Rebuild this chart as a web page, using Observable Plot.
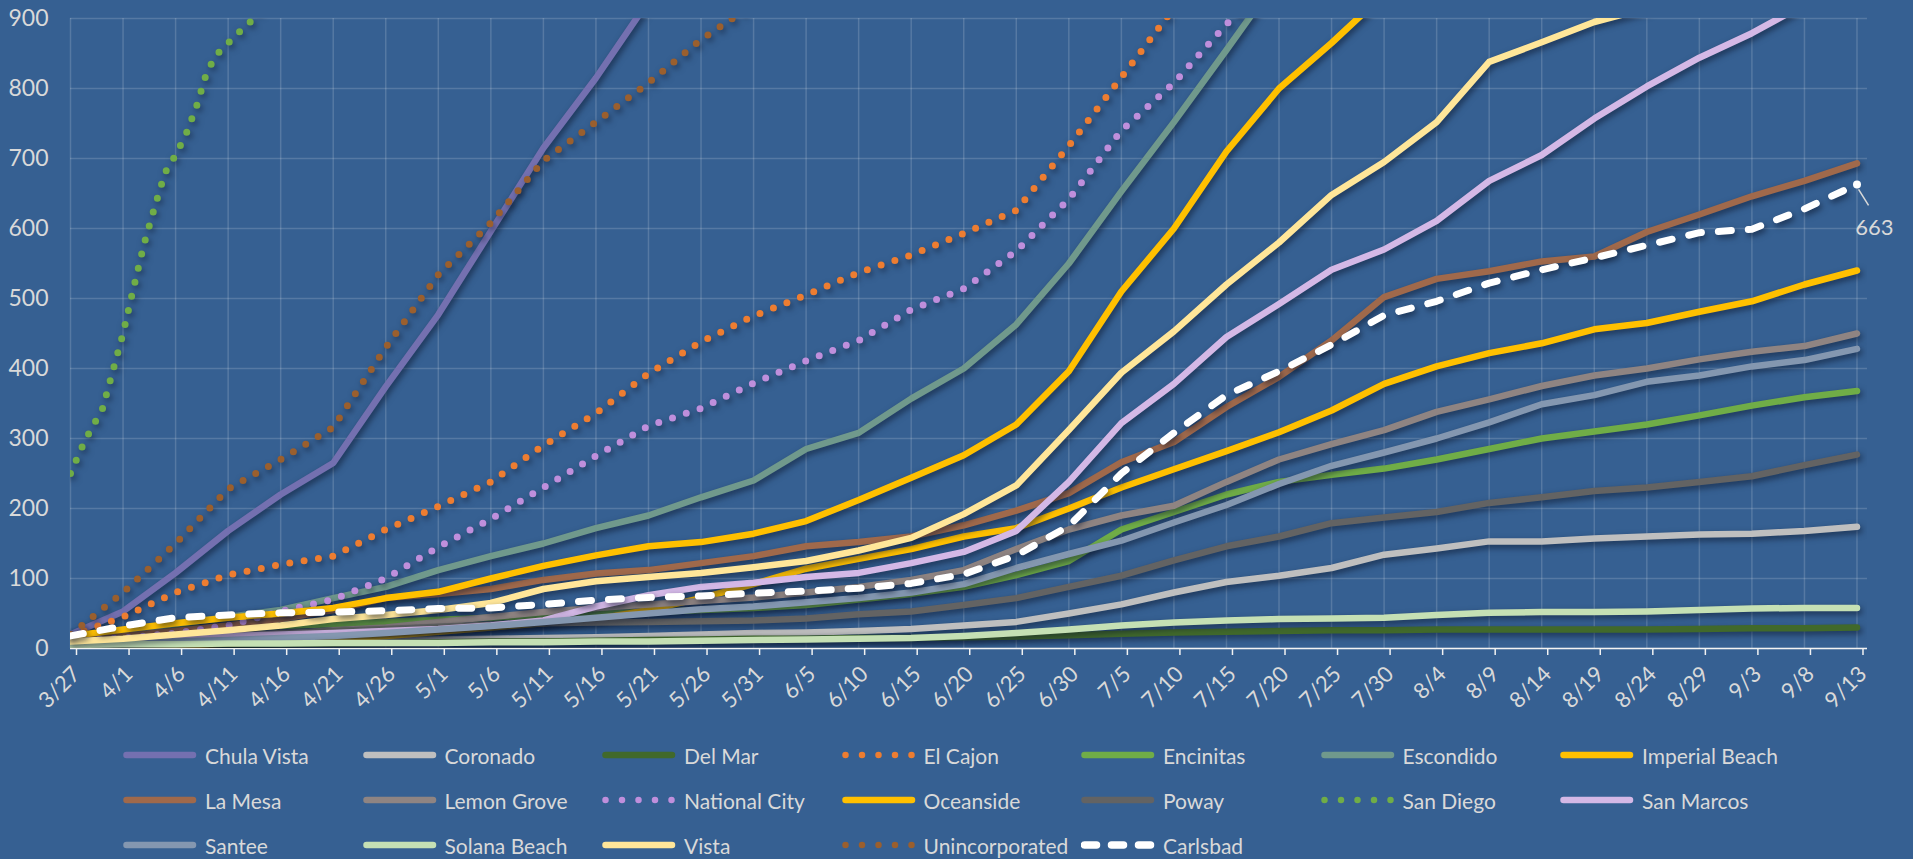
<!DOCTYPE html>
<html><head><meta charset="utf-8">
<script src="https://cdn.jsdelivr.net/npm/d3@7"></script>
<script src="https://cdn.jsdelivr.net/npm/@observablehq/plot@0.6"></script>
<style>
html,body{margin:0;padding:0;background:#366092;}
body{width:1913px;height:859px;overflow:hidden;position:relative;font-family:Lato,"Open Sans",sans-serif;}
#chart svg{display:block;background:#366092;}
#chart g[aria-label="line"] path{filter:drop-shadow(2px 3px 3px rgba(8,18,40,0.6));}
#chart g[aria-label="x-axis tick label"] text{font-size:22px;fill:#D9D9D9;}
#chart g[aria-label="y-axis tick label"] text{font-size:23px;fill:#D9D9D9;}
#legend{position:absolute;left:0;top:0;width:1913px;height:859px;pointer-events:none;}
.item{position:absolute;display:flex;align-items:center;height:30px;color:#D9D9D9;font-size:21px;white-space:nowrap;}
.item svg{margin-right:6px;flex:none;}
</style></head><body>
<div id="chart"></div><div id="legend"></div>
<script>
// ---- data ----
const tickDays = [0,5,10,15,20,25,30,35,40,45,50,55,60,65,70,75,80,85,90,95,100,105,110,115,120,125,130,135,140,145,150,155,160,165,170];
const tickLabels = ["3/27","4/1","4/6","4/11","4/16","4/21","4/26","5/1","5/6","5/11","5/16","5/21","5/26","5/31","6/5","6/10","6/15","6/20","6/25","6/30","7/5","7/10","7/15","7/20","7/25","7/30","8/4","8/9","8/14","8/19","8/24","8/29","9/3","9/8","9/13"];
const yTicks = [0,100,200,300,400,500,600,700,800,900];

const sanDiegoDays = [0,1,2,3,4,5,6,7,8,9,10,11,12,13,14,15,16,17,18];
const sanDiego = [250,285,315,340,395,450,515,578,630,680,705,735,775,825,850,865,880,893,915];

const chulaVista = [20,53,108,168,220,265,374,477,596,715,815,925];
const coronado = [3,5,7,9,10,11,12,13,14,15,16,18,20,22,23,25,28,33,38,50,63,80,95,104,115,134,143,153,153,157,160,163,164,168,174];
const delMar = [1,2,4,5,6,7,8,9,10,10,11,12,13,14,14,15,15,16,17,19,21,23,24,25,26,26,27,27,27,27,27,28,29,29,30];
const elCajon = [18,45,80,105,120,132,170,203,238,290,336,393,438,475,505,537,562,593,626,718,816,915];
const encinitas = [18,25,28,30,32,35,38,41,44,47,50,52,55,58,62,70,78,88,105,125,170,195,220,238,248,257,270,285,300,310,320,333,347,359,368];
const escondido = [15,25,35,45,55,72,88,112,132,150,172,190,216,240,285,308,357,400,463,550,653,752,855,960];
const imperialBeach = [2,3,4,7,10,14,18,24,30,36,42,55,72,92,114,128,142,160,172,200,230,256,282,309,340,378,403,422,436,456,465,481,496,520,540];
const laMesa = [12,18,25,33,42,55,72,78,85,98,107,112,122,132,146,152,160,176,197,222,266,295,345,388,440,502,528,539,553,560,595,620,646,668,693];
const lemonGrove = [5,8,12,16,20,26,30,38,45,52,58,63,68,73,80,88,98,112,142,170,190,204,238,270,292,312,338,356,375,390,400,413,424,432,450];
const nationalCity = [12,15,22,33,53,70,100,145,185,230,275,318,343,379,411,440,484,514,568,642,740,808,892,960];
const oceanside = [18,27,36,44,50,58,72,81,100,118,133,146,152,164,182,212,244,276,320,396,510,600,710,800,865,935];
const poway = [5,10,14,18,22,25,28,31,34,36,37,38,39,40,43,49,53,62,72,88,104,126,146,160,179,187,195,208,216,225,230,238,246,262,277];
const sanMarcos = [8,12,15,18,20,22,25,28,33,40,60,76,88,94,102,108,122,138,168,238,322,378,445,492,541,570,611,668,705,757,803,844,879,920];
const santee = [5,7,10,12,15,18,22,27,32,38,44,50,56,60,66,72,80,92,115,135,154,180,205,235,261,280,300,323,349,362,381,390,403,412,428];
const solanaBeach = [5,6,6,7,7,8,8,8,9,9,10,10,11,12,13,14,15,18,22,27,33,37,40,42,43,44,48,51,52,52,53,55,57,58,58];
const vista = [10,14,20,26,33,42,48,55,65,85,96,102,108,116,125,140,158,192,233,312,394,453,520,580,648,695,752,838,866,895,915];
const unincorporated = [20,80,150,228,270,316,430,534,608,697,752,808,870,920];
const carlsbad = [18,32,44,48,51,52,54,57,58,63,69,73,75,79,82,86,93,106,133,175,250,308,362,396,434,476,496,522,541,558,576,594,599,628,663];

const seriesNames = ["Chula Vista","Coronado","Del Mar","El Cajon","Encinitas","Escondido","Imperial Beach","La Mesa","Lemon Grove","National City","Oceanside","Poway","San Diego","San Marcos","Santee","Solana Beach","Vista","Unincorporated","Carlsbad"];
const seriesValues = {"Chula Vista":chulaVista,"Coronado":coronado,"Del Mar":delMar,"El Cajon":elCajon,"Encinitas":encinitas,"Escondido":escondido,"Imperial Beach":imperialBeach,"La Mesa":laMesa,"Lemon Grove":lemonGrove,"National City":nationalCity,"Oceanside":oceanside,"Poway":poway,"San Diego":sanDiego,"San Marcos":sanMarcos,"Santee":santee,"Solana Beach":solanaBeach,"Vista":vista,"Unincorporated":unincorporated,"Carlsbad":carlsbad};

// ---- styles ----
const DOT = "0 14.5", DASH = "13 17";
const styles = {
  "Chula Vista":{color:"#7470B0"}, "Coronado":{color:"#BFBFBF"}, "Del Mar":{color:"#41692B"},
  "El Cajon":{color:"#ED7D31",dash:DOT}, "Encinitas":{color:"#70AD47"}, "Escondido":{color:"#70998C"},
  "Imperial Beach":{color:"#FFC000"}, "La Mesa":{color:"#A0694B"}, "Lemon Grove":{color:"#8F8482"},
  "National City":{color:"#BF8FDC",dash:DOT}, "Oceanside":{color:"#FFC000"}, "Poway":{color:"#636363"},
  "San Diego":{color:"#70AD47",dash:DOT}, "San Marcos":{color:"#D4B8E6"}, "Santee":{color:"#8497B0"},
  "Solana Beach":{color:"#C5E0B4"}, "Vista":{color:"#FFE699"}, "Unincorporated":{color:"#9A5F2E",dash:DOT},
  "Carlsbad":{color:"#FFFFFF",dash:DASH}
};

const rows = [];
for (const name of seriesNames) {
  const vals = seriesValues[name];
  const days = name === "San Diego" ? sanDiegoDays : tickDays;
  vals.forEach((v, i) => { if (v != null) rows.push({name, day: days[i], value: v}); });
}
const dayLabel = new Map(tickDays.map((d, i) => [d, tickLabels[i]]));

function lineMark(name) {
  const st = styles[name];
  const opts = {x:"day", y:"value", stroke: st.color, strokeWidth: st.dash ? 7 : 6.5,
    strokeLinecap:"round", strokeLinejoin:"round", clip:true};
  if (st.dash) opts.strokeDasharray = st.dash;
  return Plot.line(rows.filter(r => r.name === name), opts);
}

const lastCarlsbad = rows.filter(r => r.name === "Carlsbad").slice(-1);

const chart = Plot.plot({
  width: 1913, height: 720,
  marginLeft: 70, marginRight: 46, marginTop: 18, marginBottom: 72,
  style: {background:"#366092", color:"#D9D9D9", fontFamily:"Lato, 'Open Sans', sans-serif", overflow:"visible"},
  x: {domain:[0,171]},
  y: {domain:[0,900]},
  marks: [
    Plot.gridY(yTicks, {stroke:"#FFFFFF", strokeOpacity:0.16, strokeWidth:1.5}),
    Plot.gridX(tickDays, {stroke:"#FFFFFF", strokeOpacity:0.16, strokeWidth:1.5}),
    Plot.axisY(yTicks, {tickSize:0, tickPadding:22, fontSize:23, label:null, fill:"#D9D9D9"}),
    Plot.axisX(tickDays, {tickFormat: d => dayLabel.get(d), tickRotate:-45, tickSize:7, tickPadding:15, dx:6,
      fontSize:22, label:null, stroke:"#F2F2F2", fill:"#D9D9D9", strokeWidth:1.5}),
    Plot.ruleY([0], {stroke:"#F2F2F2", strokeWidth:1.5}),
    ...seriesNames.map(lineMark),
    Plot.dot(lastCarlsbad, {x:"day", y:"value", r:4, fill:"#FFFFFF"}),
    Plot.link(lastCarlsbad, {x1: d => d.day + 0.15, y1: d => d.value - 7, x2: d => d.day + 1.1, y2: d => d.value - 30,
      stroke:"#D9D9D9", strokeWidth:1.5}),
    Plot.text(lastCarlsbad, {x: d => d.day + 1.65, y: d => d.value - 62, text: d => String(d.value),
      fontSize:22, fill:"#D9D9D9"})
  ]
});
document.getElementById("chart").appendChild(chart);

// ---- legend (below the SVG) ----
const legend = document.getElementById("legend");
const colStarts = [123, 362.5, 602, 841.5, 1081, 1320.5, 1560];
const rowCenters = [755, 800, 845];
seriesNames.forEach((name, i) => {
  const st = styles[name];
  const col = i % 7, row = Math.floor(i / 7);
  const item = document.createElement("div");
  item.className = "item";
  item.style.left = colStarts[col] + "px";
  item.style.top = (rowCenters[row] - 15) + "px";
  const ns = "http://www.w3.org/2000/svg";
  const svg = document.createElementNS(ns, "svg");
  svg.setAttribute("width", 76); svg.setAttribute("height", 14);
  const ln = document.createElementNS(ns, "line");
  ln.setAttribute("x1", 3.5); ln.setAttribute("x2", 70); ln.setAttribute("y1", 7); ln.setAttribute("y2", 7);
  ln.setAttribute("stroke", st.color); ln.setAttribute("stroke-linecap", "round");
  if (st.dash === DOT) { ln.setAttribute("stroke-width", 6.5); ln.setAttribute("stroke-dasharray", "0 16.5"); }
  else if (st.dash === DASH) { ln.setAttribute("stroke-width", 7.5); ln.setAttribute("stroke-dasharray", "12 15"); }
  else { ln.setAttribute("stroke-width", 6.5); }
  svg.appendChild(ln);
  item.appendChild(svg);
  const t = document.createElement("span");
  t.textContent = name;
  item.appendChild(t);
  legend.appendChild(item);
});
</script></body></html>
